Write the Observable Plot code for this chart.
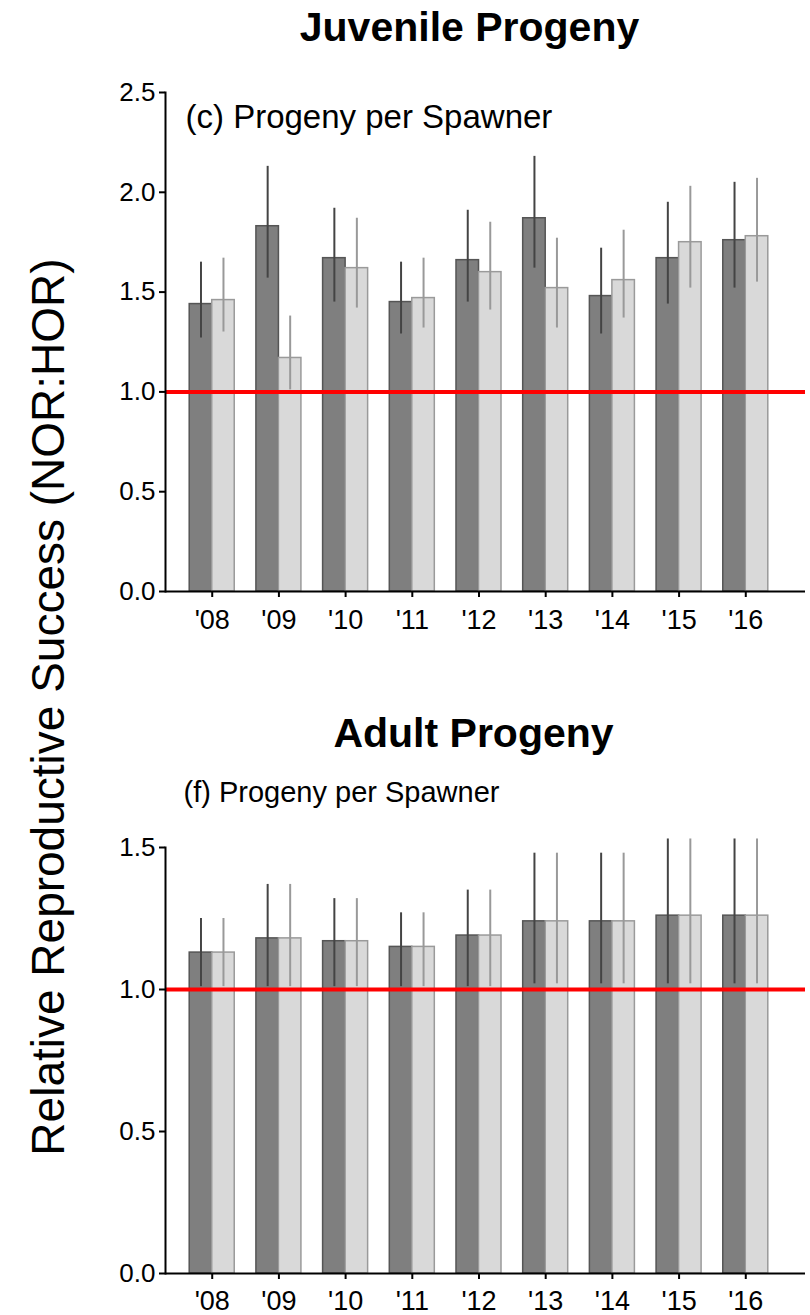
<!DOCTYPE html>
<html>
<head>
<meta charset="utf-8">
<script src="https://cdn.jsdelivr.net/npm/d3@7"></script>
<script src="https://cdn.jsdelivr.net/npm/@observablehq/plot@0.6"></script>
<style>
  body { margin: 0; background: #fff; font-family: "Liberation Sans", Arial, sans-serif; }
  #wrap { position: relative; width: 810px; height: 1315px; overflow: hidden; background: #fff; }
  #top, #bottom { position: absolute; left: 0; }
  #top { top: 0; }
  #bottom { top: 650px; }
  #ytitle {
    position: absolute; left: 48px; top: 707px;
    transform: translate(-50%, -50%) rotate(-90deg);
    white-space: nowrap; font-size: 46px; line-height: 1; color: #000;
    font-family: "Liberation Sans", Arial, sans-serif;
  }
</style>
</head>
<body>
<div id="wrap">
  <div id="top"></div>
  <div id="bottom"></div>
  <div id="ytitle">Relative Reproductive Success (NOR:HOR)</div>
</div>
<script>
// ---- Data ----
const years = ["'08", "'09", "'10", "'11", "'12", "'13", "'14", "'15", "'16"];

// Juvenile progeny – (c) Progeny per Spawner
const juvDark   = [1.44, 1.83, 1.67, 1.45, 1.66, 1.87, 1.48, 1.67, 1.76];
const juvDarkLo = [1.27, 1.57, 1.45, 1.29, 1.45, 1.62, 1.29, 1.44, 1.52];
const juvDarkHi = [1.65, 2.13, 1.92, 1.65, 1.91, 2.18, 1.72, 1.95, 2.05];
const juvLight   = [1.46, 1.17, 1.62, 1.47, 1.60, 1.52, 1.56, 1.75, 1.78];
const juvLightLo = [1.30, 1.01, 1.42, 1.32, 1.41, 1.32, 1.37, 1.52, 1.55];
const juvLightHi = [1.67, 1.38, 1.87, 1.67, 1.85, 1.77, 1.81, 2.03, 2.07];

// Adult progeny – (f) Progeny per Spawner
const adDark   = [1.13, 1.18, 1.17, 1.15, 1.19, 1.24, 1.24, 1.26, 1.26];
const adDarkLo = [1.01, 1.01, 1.01, 1.01, 1.01, 1.02, 1.02, 1.02, 1.02];
const adDarkHi = [1.25, 1.37, 1.32, 1.27, 1.35, 1.48, 1.48, 1.53, 1.53];
const adLight   = [1.13, 1.18, 1.17, 1.15, 1.19, 1.24, 1.24, 1.26, 1.26];
const adLightLo = [1.01, 1.01, 1.01, 1.01, 1.01, 1.02, 1.02, 1.02, 1.02];
const adLightHi = [1.25, 1.37, 1.32, 1.27, 1.35, 1.48, 1.48, 1.53, 1.53];

const juvTicks = [0, 0.5, 1.0, 1.5, 2.0, 2.5];
const adTicks = [0, 0.5, 1.0, 1.5];
const refLine = [1.0];

function rows(vals, lo, hi) {
  return years.map((year, i) => ({year, value: vals[i], lo: lo[i], hi: hi[i]}));
}

const FONT = "Liberation Sans, Arial, Helvetica, sans-serif";
const DARK_FILL = "#7f7f7f", DARK_STROKE = "#555555", DARK_ERR = "#444444";
const LIGHT_FILL = "#d9d9d9", LIGHT_STROKE = "#9a9a9a", LIGHT_ERR = "#999999";

function panel({dark, light, yMax, ticks, height, marginTop, marginBottom, xPad, title, titleDx, titleDy, label, labelSize, labelDx, labelDy}) {
  return Plot.plot({
    width: 810,
    height,
    marginLeft: 165,
    marginRight: 5,
    marginTop,
    marginBottom,
    style: {fontFamily: FONT, background: "white", color: "black", overflow: "visible"},
    x: {type: "band", domain: years, range: [165, 792], round: false, paddingInner: 0.325, paddingOuter: 0.363, label: null},
    y: {domain: [0, yMax], nice: false, label: null},
    marks: [
      Plot.barY(dark, {x: "year", y: "value", insetRight: 22.5, fill: DARK_FILL, stroke: DARK_STROKE, strokeWidth: 1.5}),
      Plot.barY(light, {x: "year", y: "value", insetLeft: 22.5, fill: LIGHT_FILL, stroke: LIGHT_STROKE, strokeWidth: 1.5}),
      Plot.ruleX(dark, {x: "year", y1: "lo", y2: "hi", dx: -11.25, stroke: DARK_ERR, strokeWidth: 2}),
      Plot.ruleX(light, {x: "year", y1: "lo", y2: "hi", dx: 11.25, stroke: LIGHT_ERR, strokeWidth: 2}),
      Plot.ruleY(refLine, {stroke: "#ff0000", strokeWidth: 4}),
      Plot.ruleY([0], {stroke: "black", strokeWidth: 2}),
      Plot.frame({anchor: "left", stroke: "black", strokeWidth: 2}),
      Plot.axisY({ticks, tickFormat: d3.format(".1f"), tickSize: 6, tickPadding: 4, fontSize: 26, strokeWidth: 2, label: null, fill: "black"}),
      Plot.axisX({tickSize: 6, tickPadding: xPad, fontSize: 27, strokeWidth: 2, label: null, fill: "black"}),
      Plot.text([title], {text: d => d, frameAnchor: "top", lineAnchor: "top", dx: titleDx, dy: titleDy, fontSize: 41, fontWeight: "bold", fill: "black"}),
      Plot.text([label], {text: d => d, frameAnchor: "top-left", textAnchor: "start", lineAnchor: "top", dx: labelDx, dy: labelDy, fontSize: labelSize, fill: "black"})
    ]
  });
}

document.getElementById("top").append(panel({
  dark: rows(juvDark, juvDarkLo, juvDarkHi),
  light: rows(juvLight, juvLightLo, juvLightHi),
  yMax: 2.5, ticks: juvTicks,
  height: 650, marginTop: 92, marginBottom: 59, xPad: 12,
  title: "Juvenile Progeny", titleDx: -16, titleDy: -81,
  label: "(c) Progeny per Spawner", labelSize: 33, labelDx: 20, labelDy: 12
}));

document.getElementById("bottom").append(panel({
  dark: rows(adDark, adDarkLo, adDarkHi),
  light: rows(adLight, adLightLo, adLightHi),
  yMax: 1.5, ticks: adTicks,
  height: 665, marginTop: 197, marginBottom: 42, xPad: 11,
  title: "Adult Progeny", titleDx: -12, titleDy: -130,
  label: "(f) Progeny per Spawner", labelSize: 29, labelDx: 18, labelDy: -66
}));
</script>
</body>
</html>
